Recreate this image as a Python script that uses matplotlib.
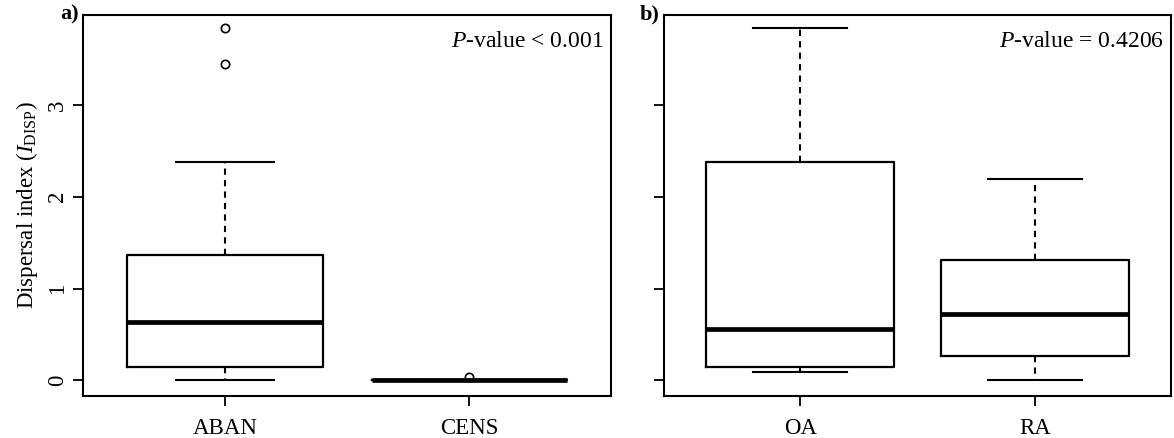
import matplotlib
matplotlib.use("Agg")
import matplotlib.pyplot as plt

plt.rcParams['font.family'] = ['Liberation Serif', 'DejaVu Serif']
plt.rcParams['mathtext.fontset'] = 'custom'
plt.rcParams['mathtext.rm'] = 'Liberation Serif'
plt.rcParams['mathtext.it'] = 'Liberation Serif:italic'
plt.rcParams['mathtext.bf'] = 'Liberation Serif:bold'

# box statistics: q1, median, q3, whisker low, whisker high, outliers
groups_a = ['ABAN', 'CENS']
q1_a = [0.15, 0.0]
med_a = [0.64, 0.0]
q3_a = [1.37, 0.0]
wlo_a = [0.0, 0.0]
whi_a = [2.38, 0.0]
fliers_a = [[3.44, 3.84], [0.04]]

groups_b = ['OA', 'RA']
q1_b = [0.14, 0.27]
med_b = [0.56, 0.72]
q3_b = [2.38, 1.31]
wlo_b = [0.09, 0.0]
whi_b = [3.84, 2.19]
fliers_b = [[], []]

panel_tags = ['a)', 'b)']
pvalues = ['$P$-value < 0.001', '$P$-value = 0.4206']
yticks = [0, 1, 2, 3]


def make_stats(names, q1, med, q3, wlo, whi, fl):
    stats = []
    for i in range(len(names)):
        stats.append(dict(label=names[i], q1=q1[i], med=med[i], q3=q3[i],
                          whislo=wlo[i], whishi=whi[i], fliers=fl[i]))
    return stats


fig = plt.figure(figsize=(11.74, 4.38), dpi=100)
ax_a = fig.add_axes([0.0707, 0.096, 0.450, 0.870])
ax_b = fig.add_axes([0.5656, 0.096, 0.432, 0.870])

panels = [
    (ax_a, make_stats(groups_a, q1_a, med_a, q3_a, wlo_a, whi_a, fliers_a)),
    (ax_b, make_stats(groups_b, q1_b, med_b, q3_b, wlo_b, whi_b, fliers_b)),
]

for k, (ax, stats) in enumerate(panels):
    ax.bxp(stats, positions=[1, 2], widths=0.8, showfliers=True,
           boxprops=dict(color='black', linewidth=1.6),
           whiskerprops=dict(color='black', linewidth=1.5, linestyle=(0, (3, 2.5))),
           capprops=dict(color='black', linewidth=1.5),
           medianprops=dict(color='black', linewidth=3.4),
           flierprops=dict(marker='o', markerfacecolor='none', markeredgecolor='black',
                           markersize=6, markeredgewidth=1.2),
           capwidths=0.4)
    ax.set_xlim(0.42, 2.58)
    ax.set_ylim(-0.17, 3.98)
    ax.set_yticks(yticks)
    for sp in ax.spines.values():
        sp.set_linewidth(1.5)
    ax.tick_params(axis='both', length=7, width=1.3, labelsize=16.5, pad=4)
    ax.tick_params(axis='x', pad=9)
    ax.tick_params(axis='y', labelrotation=90)
    for lab in ax.get_yticklabels():
        lab.set_va('center')
    ax.text(0.985, 0.93, pvalues[k], transform=ax.transAxes, ha='right', va='center',
            fontsize=17)
    ax.text(-0.008, 1.0, panel_tags[k], transform=ax.transAxes, ha='right', va='center',
            fontsize=16, fontweight='bold')

ax_b.set_yticklabels([])
ax_a.set_ylabel(r'Dispersal index ($I_{\mathrm{DISP}}$)', fontsize=16.5, labelpad=5)

fig.savefig('out.png', dpi=100)
